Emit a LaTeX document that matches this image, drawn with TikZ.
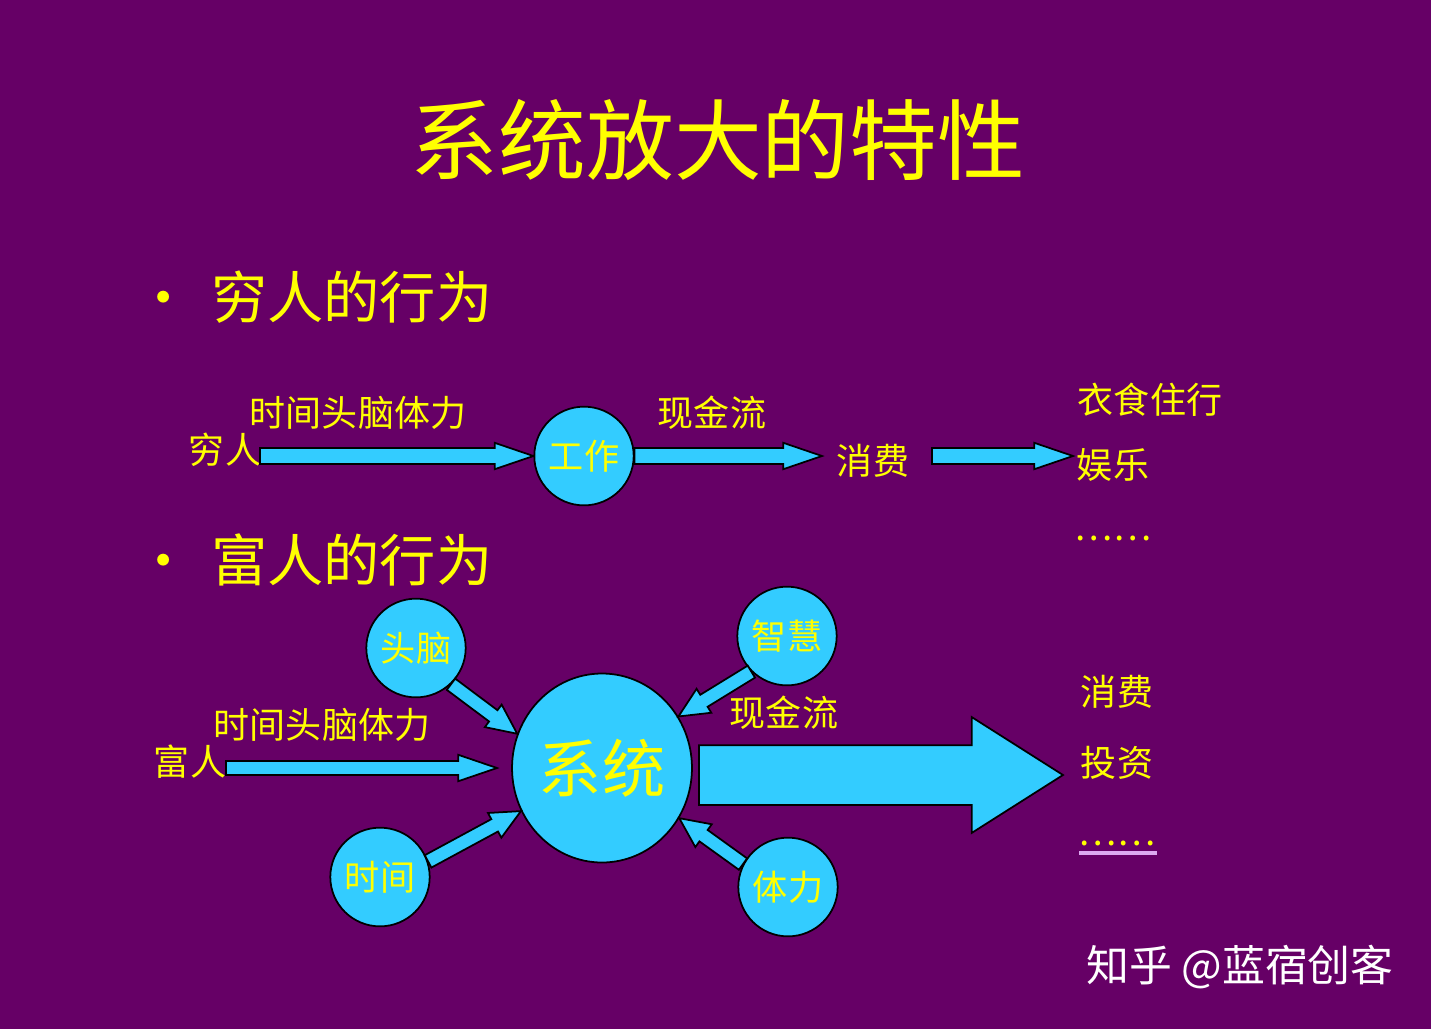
\documentclass[tikz,border=0pt]{standalone}
\usepackage{fontspec}
\setmainfont{Noto Sans CJK SC}
\usetikzlibrary{calc,shapes.geometric,positioning}
\definecolor{bgpurple}{RGB}{102,0,102}
\definecolor{txtyellow}{RGB}{255,255,0}
\definecolor{boxcyan}{RGB}{51,204,255}
\definecolor{lavender}{RGB}{220,170,240}
\tikzset{
  lbl/.style={text=txtyellow,inner sep=0pt,font=\fontsize{20.5}{20.5}\selectfont},
  head/.style={text=txtyellow,inner sep=0pt,font=\fontsize{32}{32}\selectfont},
  bubble/.style={ellipse,draw=black,line width=1pt,fill=boxcyan,text=txtyellow,
    minimum width=#1*0.04cm,minimum height=#1*0.042cm,inner sep=0pt,
    font=\fontsize{20}{20}\selectfont},
  blk/.style={draw=black,line width=1pt,fill=boxcyan}
}
% #1 from, #2 to, #3 half width, #4 half head width, #5 head length
\newcommand\blockarrow[5]{%
  \path[blk] let \p1=#1, \p2=#2, \n1={atan2(\y2-\y1,\x2-\x1)},
    \n2={veclen(\x2-\x1,\y2-\y1)} in
    ($(\p1)+(\n1+90:#3)$) -- ($(\p1)+(\n1:\n2-#5)+(\n1+90:#3)$)
    -- ($(\p1)+(\n1:\n2-#5)+(\n1+90:#4)$) -- (\p2)
    -- ($(\p1)+(\n1:\n2-#5)+(\n1-90:#4)$) -- ($(\p1)+(\n1:\n2-#5)+(\n1-90:#3)$)
    -- ($(\p1)+(\n1-90:#3)$) -- cycle;}
\begin{document}
\begin{tikzpicture}[x=0.02cm,y=-0.02cm]
  \fill[bgpurple] (0,0) rectangle (1431,1029);
  \useasboundingbox (0,0) rectangle (1431,1029);
  \node[text=txtyellow,font=\fontsize{50}{50}\selectfont] (title) at (718,140) {系统放大的特性};
  % poor
  \node[head,anchor=west] (poorhead) at (135,297) {•\hspace{0.35em}穷人的行为};
  \node[lbl] (qiongren) at (225,450) {穷人};
  \node[lbl] (poorinput) at (358,413) {时间头脑体力};
  \node[bubble=47] (gongzuo) at (584,456) {工作};
  \node[lbl] (poorcash) at (712,413) {现金流};
  \node[lbl] (xiaofei) at (873,461) {消费};
  \node[lbl] (yishi) at (1150,400) {衣食住行};
  \node[lbl] (yule) at (1113,465) {娱乐};
  \node[lbl] (poordots) at (1113,538) {……};
  \blockarrow{(260,456)}{(gongzuo.west)}{4.5pt}{7.5pt}{22pt}
  \blockarrow{(gongzuo.east)}{(822,456)}{4.5pt}{7.5pt}{22pt}
  \blockarrow{(932,456)}{(1073,456)}{4.5pt}{7.5pt}{22pt}
  % rich
  \node[head,anchor=west] (richhead) at (135,560) {•\hspace{0.35em}富人的行为};
  \node[lbl] (furen) at (190,762) {富人};
  \node[lbl] (richinput) at (322,725) {时间头脑体力};
  \node[bubble=90,font=\fontsize{36}{36}\selectfont] (xitong) at (602,768) {系统};
  \node[bubble=47] (tounao) at (416,648) {头脑};
  \node[bubble=47] (zhihui) at (787,636) {智慧};
  \node[bubble=47] (shijian) at (380,877) {时间};
  \node[bubble=47] (tili) at (788,887) {体力};
  \node[lbl] (richcash) at (784,713) {现金流};
  \node[lbl] (xf) at (1117,692) {消费};
  \node[lbl] (touzi) at (1117,763) {投资};
  \node[lbl] (richdots) at (1117,843) {……};
  \draw[lavender,line width=2pt] (1079,853) -- (1157,853);
  \blockarrow{(226,768)}{(497,768)}{4pt}{7.5pt}{22pt}
  \blockarrow{(tounao.-46)}{(xitong.158)}{4pt}{8pt}{17pt}
  \blockarrow{(zhihui.-135)}{(xitong.34)}{4pt}{8pt}{17pt}
  \blockarrow{(shijian.18)}{(xitong.-152)}{4pt}{8pt}{17pt}
  \blockarrow{(tili.153)}{(xitong.-33)}{4pt}{8pt}{17pt}
  \blockarrow{(699,775)}{(1063,775)}{17pt}{33pt}{52pt}
  \node[text=white,font=\fontsize{24.4}{24.4}\selectfont] (mark) at (1240,967) {知乎 @蓝宿创客};
\end{tikzpicture}
\end{document}
